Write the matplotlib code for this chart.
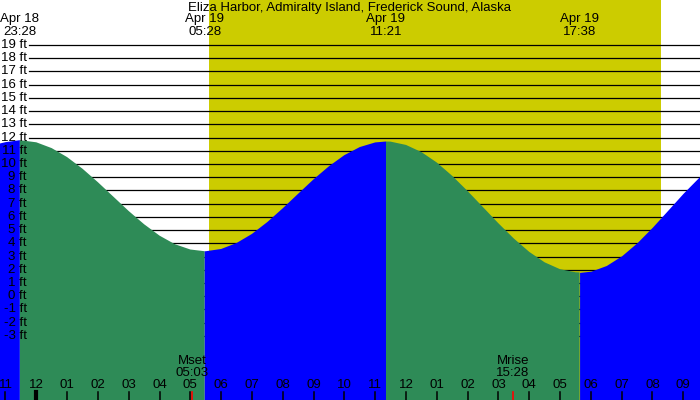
import numpy as np
import matplotlib
matplotlib.use('Agg')
import matplotlib.pyplot as plt

plt.rcParams['font.family'] = ['Liberation Sans', 'DejaVu Sans']

title = 'Eliza Harbor, Admiralty Island, Frederick Sound, Alaska'

# hours after midnight Apr 19, tide height in ft
tide_hours = [-1.18, -1.0, -0.533, 0.0, 0.5, 1.0, 1.5, 2.0, 2.5, 3.0, 3.5, 4.0, 4.5, 5.0, 5.467,
              5.5, 6.0, 6.5, 7.0, 7.5, 8.0, 8.5, 9.0, 9.5, 10.0, 10.5, 11.0, 11.35,
              11.5, 12.0, 12.5, 13.0, 13.5, 14.0, 14.5, 15.0, 15.5, 16.0, 16.5, 17.0, 17.5, 17.633,
              18.0, 18.5, 19.0, 19.5, 20.0, 20.5, 21.0, 21.55]
tide_ft = [11.55, 11.65, 11.8, 11.64, 11.20, 10.52, 9.64, 8.62, 7.53, 6.44, 5.44, 4.58, 3.93, 3.53, 3.4,
           3.40, 3.57, 4.02, 4.71, 5.61, 6.65, 7.75, 8.84, 9.83, 10.67, 11.28, 11.63, 11.7,
           11.69, 11.44, 10.90, 10.11, 9.10, 7.95, 6.73, 5.51, 4.36, 3.35, 2.56, 2.04, 1.81, 1.8,
           1.89, 2.32, 3.06, 4.05, 5.23, 6.51, 7.80, 9.10]

ext_hours = [-0.533, 5.467, 11.35, 17.633]
ext_labels = [('Apr 18', '23:28'), ('Apr 19', '05:28'), ('Apr 19', '11:21'), ('Apr 19', '17:38')]

sunrise = 5.6
sunset = 20.27

moon_hours = [5.05, 15.467]
moon_labels = [('Mset', '05:03'), ('Mrise', '15:28')]

hour_ticks = list(range(-1, 22))
hour_labels = ['11', '12', '01', '02', '03', '04', '05', '06', '07', '08', '09', '10',
               '11', '12', '01', '02', '03', '04', '05', '06', '07', '08', '09']

ft_levels = list(range(-3, 20))

W, H = 700, 400
x0_px, px_per_h = 36.3, 30.81
y19_px, px_per_ft = 45.0, 13.22

fig = plt.figure(figsize=(7, 4), dpi=100)
ax = fig.add_axes([0, 0, 1, 1])
ax.set_facecolor('#c0c0c0')
ax.set_xlim(-x0_px / px_per_h, (W - x0_px) / px_per_h)
ax.set_ylim(19 - (H - y19_px) / px_per_ft, 19 + y19_px / px_per_ft)
ax.axis('off')
ax.patch.set_visible(True)

ax.axvspan(sunrise, sunset, color='#cccc00', zorder=0, lw=0)

for lv in ft_levels:
    ax.axhline(lv, xmin=29 / W, xmax=1, color='black', lw=0.9, zorder=1)

# rising = blue, falling = green
hrs = np.array(tide_hours)
hts = np.array(tide_ft)
bounds = [hrs[0]] + ext_hours + [hrs[-1]]
colors = ['#0000ff', '#2e8b57', '#0000ff', '#2e8b57', '#0000ff']
bottom = -20
for i in range(len(bounds) - 1):
    m = (hrs >= bounds[i]) & (hrs <= bounds[i + 1])
    ax.fill_between(hrs[m], hts[m], bottom, color=colors[i], lw=0, zorder=2)

fs = 9.5
ytr = ax.get_yaxis_transform()
for lv in ft_levels:
    ax.text(27 / W, lv, f'{lv} ft', transform=ytr, ha='right', va='center',
            fontsize=fs, zorder=4)

xtr = ax.get_xaxis_transform()
ax.text(0.5, 1 - 7.5 / H, title, transform=ax.transAxes, ha='center', va='center', fontsize=fs)
for t, (a, b) in zip(ext_hours, ext_labels):
    ax.text(t, 1 - 19.3 / H, a, transform=xtr, ha='center', va='center', fontsize=fs)
    ax.text(t, 1 - 31.7 / H, b, transform=xtr, ha='center', va='center', fontsize=fs)

for t, (a, b) in zip(moon_hours, moon_labels):
    ax.text(t, 1 - 361.5 / H, a, transform=xtr, ha='center', va='center', fontsize=fs, zorder=5)
    ax.text(t, 1 - 373.3 / H, b, transform=xtr, ha='center', va='center', fontsize=fs, zorder=5)
    ax.plot([t, t], [0, 8.5 / H], transform=xtr, color='red', lw=1.2, zorder=5)

for t, lab in zip(hour_ticks, hour_labels):
    ax.text(t, 1 - 385.5 / H, lab, transform=xtr, ha='center', va='center', fontsize=fs, zorder=5)
    lw = 3 if t % 24 == 0 else 1.1
    ax.plot([t, t], [0, 8.5 / H], transform=xtr, color='black', lw=lw, zorder=5)

fig.savefig('out.png', dpi=100)
